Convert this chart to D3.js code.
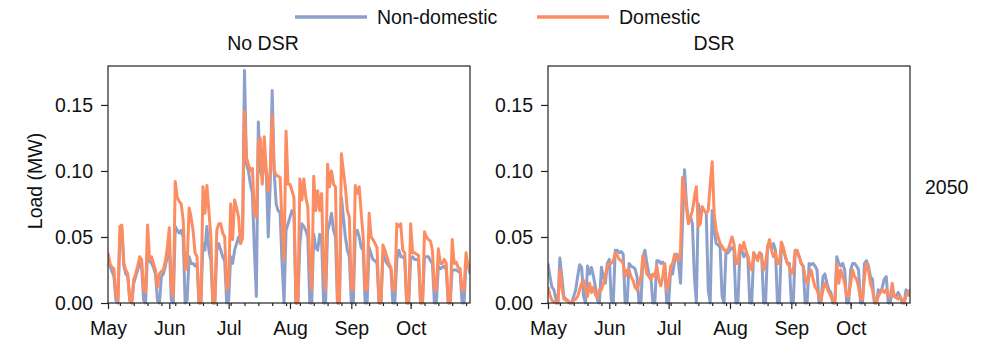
<!DOCTYPE html>
<html>
<head>
<meta charset="utf-8">
<script src="https://cdn.jsdelivr.net/npm/d3@7"></script>
<style>
  body { margin: 0; background: #fff; }
  svg { display: block; font-family: "Liberation Sans", Arial, sans-serif; }
</style>
</head>
<body>
<svg id="chart" width="988" height="341"></svg>
<script>
// daily load, 1 May .. 31 Oct (184 days), values in MW
const startDay = new Date(2050, 4, 1)
const endDay = new Date(2050, 9, 31)
const days = d3.timeDay.range(startDay, d3.timeDay.offset(endDay, 1))

const seriesNames = ["Non-domestic", "Domestic"]
const panelTitles = ["No DSR", "DSR"]
const yTicks = [0, 0.05, 0.10, 0.15]
const rowLabel = "2050"

const noDsrNonDomestic = [
  0.033, 0.028, 0.024, 0.020, 0.002, 0.000,
  0.050, 0.056, 0.028, 0.022, 0.020, 0.002, 0.000,
  0.015, 0.020, 0.025, 0.030, 0.028, 0.002, 0.000,
  0.040, 0.032, 0.030, 0.027, 0.022, 0.002, 0.000,
  0.020, 0.022, 0.028, 0.035, 0.045, 0.002, 0.000,
  0.058, 0.055, 0.053, 0.055, 0.050, 0.000, 0.002,
  0.035, 0.030, 0.030, 0.028, 0.030, 0.000, 0.000,
  0.045, 0.040, 0.058, 0.040, 0.032, 0.000, 0.000,
  0.040, 0.045, 0.040, 0.035, 0.032, 0.000, 0.002,
  0.035, 0.030, 0.040, 0.045, 0.050, 0.045, 0.050,
  0.176, 0.105, 0.100, 0.090, 0.083, 0.040, 0.005,
  0.137, 0.100, 0.095, 0.108, 0.100, 0.050, 0.090,
  0.161, 0.100, 0.075, 0.070, 0.068, 0.030, 0.000,
  0.055, 0.060, 0.065, 0.070, 0.068, 0.000, 0.000,
  0.045, 0.060, 0.058, 0.055, 0.050, 0.000, 0.000,
  0.052, 0.042, 0.040, 0.052, 0.048, 0.000, 0.000,
  0.055, 0.060, 0.068, 0.055, 0.050, 0.000, 0.000,
  0.080, 0.065, 0.050, 0.040, 0.035, 0.000, 0.000,
  0.052, 0.055, 0.050, 0.042, 0.040, 0.000, 0.000,
  0.042, 0.037, 0.033, 0.032, 0.030, 0.000, 0.000,
  0.037, 0.033, 0.030, 0.028, 0.026, 0.000, 0.000,
  0.033, 0.040, 0.035, 0.035, 0.033, 0.000, 0.000,
  0.033, 0.035, 0.033, 0.033, 0.032, 0.000, 0.000,
  0.035, 0.035, 0.035, 0.032, 0.030, 0.000, 0.000,
  0.028, 0.026, 0.027, 0.028, 0.025, 0.000, 0.000,
  0.025, 0.025, 0.025, 0.024, 0.023, 0.000, 0.000,
  0.030, 0.030, 0.022
]

const noDsrDomestic = [
  0.038, 0.030, 0.027, 0.026, 0.005, 0.002,
  0.058, 0.059, 0.030, 0.025, 0.022, 0.002, 0.000,
  0.018, 0.022, 0.028, 0.035, 0.033, 0.010, 0.008,
  0.059, 0.033, 0.035, 0.030, 0.025, 0.012, 0.022,
  0.024, 0.025, 0.032, 0.042, 0.057, 0.010, 0.005,
  0.092, 0.080, 0.077, 0.075, 0.063, 0.025, 0.028,
  0.072, 0.065, 0.055, 0.038, 0.035, 0.000, 0.000,
  0.088, 0.068, 0.089, 0.070, 0.050, 0.000, 0.000,
  0.055, 0.060, 0.060, 0.053, 0.050, 0.010, 0.015,
  0.075, 0.048, 0.078, 0.072, 0.065, 0.045, 0.050,
  0.145, 0.110, 0.105, 0.100, 0.102, 0.068, 0.065,
  0.121, 0.125, 0.090, 0.126, 0.100, 0.085, 0.100,
  0.142, 0.100, 0.097, 0.096, 0.095, 0.060, 0.033,
  0.130, 0.090, 0.090, 0.085, 0.080, 0.000, 0.000,
  0.094, 0.078, 0.094, 0.080, 0.073, 0.030, 0.010,
  0.096, 0.070, 0.085, 0.070, 0.083, 0.025, 0.010,
  0.105, 0.088, 0.100, 0.090, 0.088, 0.000, 0.000,
  0.113, 0.100, 0.088, 0.070, 0.065, 0.010, 0.010,
  0.089, 0.083, 0.088, 0.068, 0.050, 0.010, 0.010,
  0.068, 0.050, 0.048, 0.045, 0.042, 0.000, 0.000,
  0.044, 0.040, 0.035, 0.030, 0.027, 0.010, 0.010,
  0.060, 0.058, 0.060, 0.040, 0.038, 0.000, 0.000,
  0.060, 0.038, 0.038, 0.037, 0.036, 0.000, 0.000,
  0.054, 0.050, 0.048, 0.047, 0.040, 0.010, 0.010,
  0.041, 0.030, 0.030, 0.033, 0.030, 0.000, 0.000,
  0.048, 0.030, 0.031, 0.027, 0.026, 0.010, 0.010,
  0.038, 0.028, 0.025
]

const dsrNonDomestic = [
  0.030, 0.020, 0.012, 0.010, 0.003, 0.000,
  0.034, 0.020, 0.005, 0.003, 0.002, 0.000, 0.000,
  0.005, 0.010, 0.020, 0.029, 0.027, 0.005, 0.000,
  0.028, 0.022, 0.027, 0.020, 0.012, 0.002, 0.000,
  0.027, 0.020, 0.015, 0.030, 0.033, 0.002, 0.000,
  0.040, 0.040, 0.038, 0.039, 0.037, 0.000, 0.000,
  0.030, 0.028, 0.027, 0.026, 0.020, 0.000, 0.000,
  0.035, 0.040, 0.030, 0.022, 0.020, 0.000, 0.000,
  0.032, 0.032, 0.030, 0.031, 0.028, 0.000, 0.000,
  0.025, 0.022, 0.032, 0.037, 0.030, 0.015, 0.060,
  0.101, 0.075, 0.063, 0.065, 0.060, 0.020, 0.000,
  0.075, 0.068, 0.070, 0.070, 0.068, 0.010, 0.000,
  0.070, 0.055, 0.045, 0.044, 0.042, 0.005, 0.000,
  0.040, 0.038, 0.040, 0.042, 0.040, 0.000, 0.000,
  0.038, 0.040, 0.035, 0.038, 0.035, 0.000, 0.000,
  0.038, 0.035, 0.035, 0.038, 0.037, 0.000, 0.000,
  0.043, 0.046, 0.040, 0.045, 0.040, 0.000, 0.000,
  0.046, 0.040, 0.035, 0.030, 0.030, 0.000, 0.000,
  0.040, 0.038, 0.035, 0.030, 0.028, 0.000, 0.000,
  0.030, 0.029, 0.030, 0.028, 0.025, 0.000, 0.000,
  0.020, 0.022, 0.015, 0.010, 0.008, 0.000, 0.000,
  0.035, 0.030, 0.028, 0.030, 0.025, 0.000, 0.000,
  0.025, 0.030, 0.030, 0.028, 0.025, 0.000, 0.000,
  0.030, 0.032, 0.028, 0.020, 0.018, 0.000, 0.000,
  0.010, 0.008, 0.012, 0.018, 0.020, 0.000, 0.000,
  0.008, 0.006, 0.005, 0.008, 0.005, 0.000, 0.000,
  0.010, 0.008, 0.005
]

const dsrDomestic = [
  0.012, 0.006, 0.002, 0.001, 0.000, 0.000,
  0.025, 0.012, 0.003, 0.002, 0.002, 0.000, 0.000,
  0.002, 0.003, 0.005, 0.010, 0.015, 0.017, 0.010,
  0.005, 0.015, 0.008, 0.012, 0.006, 0.004, 0.010,
  0.010, 0.015, 0.020, 0.028, 0.030, 0.030, 0.032,
  0.038, 0.036, 0.033, 0.032, 0.030, 0.020, 0.025,
  0.025, 0.020, 0.017, 0.012, 0.010, 0.015, 0.020,
  0.036, 0.030, 0.022, 0.020, 0.018, 0.022, 0.020,
  0.028, 0.018, 0.013, 0.020, 0.030, 0.010, 0.015,
  0.028, 0.030, 0.037, 0.034, 0.032, 0.040, 0.095,
  0.085, 0.072, 0.060, 0.065, 0.070, 0.080, 0.088,
  0.058, 0.060, 0.073, 0.070, 0.068, 0.070, 0.090,
  0.107, 0.068, 0.055, 0.050, 0.045, 0.043, 0.040,
  0.040, 0.040, 0.045, 0.050, 0.045, 0.030, 0.030,
  0.044, 0.040, 0.046, 0.040, 0.036, 0.028, 0.025,
  0.038, 0.035, 0.032, 0.038, 0.035, 0.025, 0.030,
  0.042, 0.048, 0.040, 0.035, 0.038, 0.030, 0.030,
  0.046, 0.042, 0.035, 0.030, 0.028, 0.022, 0.025,
  0.040, 0.040, 0.035, 0.030, 0.028, 0.020, 0.015,
  0.020, 0.025, 0.018, 0.012, 0.010, 0.005, 0.002,
  0.010, 0.015, 0.012, 0.008, 0.005, 0.002, 0.000,
  0.030, 0.015, 0.025, 0.020, 0.015, 0.005, 0.005,
  0.015, 0.025, 0.020, 0.018, 0.012, 0.003, 0.003,
  0.020, 0.030, 0.025, 0.015, 0.010, 0.002, 0.000,
  0.005, 0.008, 0.010, 0.008, 0.010, 0.005, 0.005,
  0.015, 0.005, 0.004, 0.003, 0.005, 0.002, 0.000,
  0.005, 0.008, 0.010
]

const panels = [
  { title: panelTitles[0], left: 108, titleX: 263, series: [noDsrNonDomestic, noDsrDomestic] },
  { title: panelTitles[1], left: 548, titleX: 714, series: [dsrNonDomestic, dsrDomestic] }
]

const colors = ["#8da0cb", "#fc8d62"]
const fontSize = "19.5px"
const plotTop = 66, plotH = 237, plotW = 362

const svg = d3.select("#chart")

const x = d3.scaleTime().domain([startDay, endDay]).range([0, plotW])
const y = d3.scaleLinear().domain([0, 0.1795]).range([plotH, 0])

const line = d3.line()
  .x((d, i) => x(days[i]))
  .y(d => y(d))

panels.forEach((p, pi) => {
  const g = svg.append("g").attr("transform", `translate(${p.left},${plotTop})`)

  g.append("defs").append("clipPath").attr("id", "clip" + pi)
    .append("rect").attr("width", plotW).attr("height", plotH + 2)

  const lines = g.append("g").attr("clip-path", `url(#clip${pi})`)
  p.series.forEach((vals, si) => {
    lines.append("path")
      .datum(vals)
      .attr("fill", "none")
      .attr("stroke", colors[si])
      .attr("stroke-width", 3)
      .attr("stroke-linejoin", "round")
      .attr("d", line)
  })

  // frame
  g.append("rect")
    .attr("width", plotW).attr("height", plotH)
    .attr("fill", "none").attr("stroke", "#222").attr("stroke-width", 1.2)

  // weekly minor ticks
  g.append("g")
    .attr("transform", `translate(0,${plotH})`)
    .call(d3.axisBottom(x).ticks(d3.timeSaturday.every(1)).tickSize(3).tickFormat(""))
    .call(a => a.select(".domain").remove())

  const xAxis = g.append("g")
    .attr("transform", `translate(0,${plotH})`)
    .call(d3.axisBottom(x).ticks(d3.timeMonth.every(1)).tickSize(6).tickPadding(12).tickFormat(d3.timeFormat("%b")))
  xAxis.select(".domain").remove()

  const yAxis = g.append("g")
    .call(d3.axisLeft(y).tickValues(yTicks).tickSize(7).tickPadding(8).tickFormat(d3.format(".2f")))
  yAxis.select(".domain").remove()

  svg.selectAll(".tick line").attr("stroke", "#222").attr("stroke-width", 1.2)
  svg.selectAll(".tick text").attr("font-size", fontSize).attr("font-family", null).attr("fill", "#111")

  svg.append("text")
    .attr("x", p.titleX).attr("y", 50)
    .attr("text-anchor", "middle")
    .attr("font-size", fontSize).attr("fill", "#111")
    .text(p.title)
})

// y label
svg.append("text")
  .attr("transform", "translate(42,181) rotate(-90)")
  .attr("text-anchor", "middle")
  .attr("font-size", fontSize).attr("fill", "#111")
  .text("Load (MW)")

svg.append("text")
  .attr("x", 925).attr("y", 194)
  .attr("font-size", fontSize).attr("fill", "#111")
  .text(rowLabel)

// legend
const legendX = [295, 537]
seriesNames.forEach((name, i) => {
  const lg = svg.append("g").attr("transform", `translate(${legendX[i]},17)`)
  lg.append("line").attr("x1", 0).attr("x2", 72)
    .attr("stroke", colors[i]).attr("stroke-width", 3.5)
  lg.append("text").attr("x", 82).attr("y", 7)
    .attr("font-size", fontSize).attr("fill", "#111")
    .text(name)
})
</script>
</body>
</html>
